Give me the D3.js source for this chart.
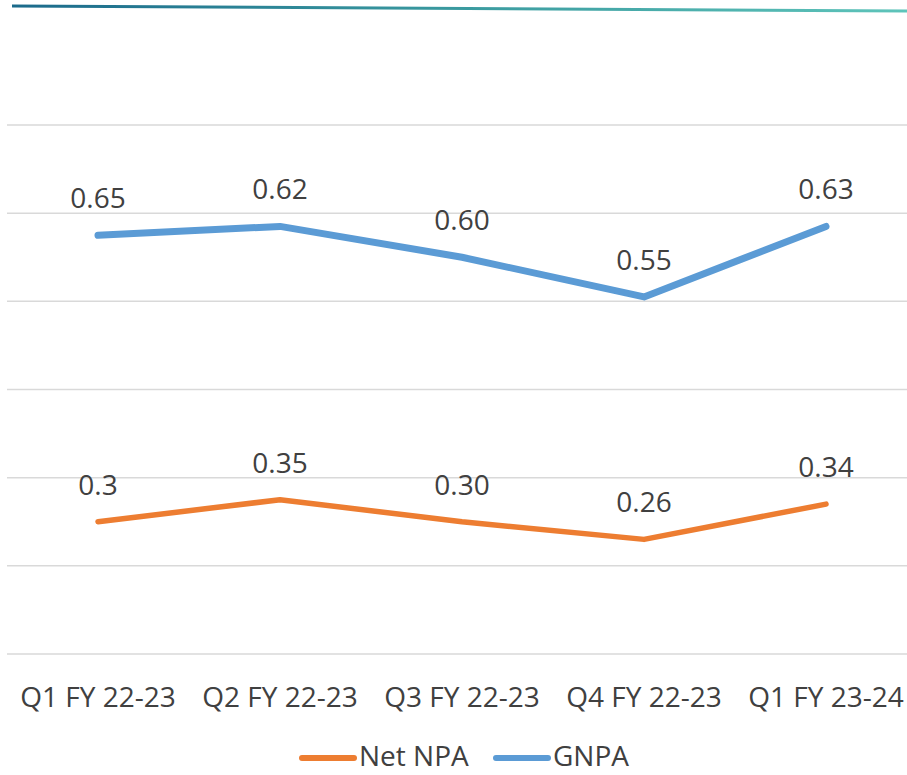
<!DOCTYPE html>
<html>
<head>
<meta charset="utf-8">
<script src="https://cdn.jsdelivr.net/npm/d3@7"></script>
<style>
  body { margin: 0; background: #fff; }
  svg { display: block; font-family: "Open Sans", "Noto Sans", sans-serif; }
</style>
</head>
<body>
<svg id="chart"></svg>
<script>
// data (GNPA is drawn stacked on top of Net NPA)
const categories = ["Q1 FY 22-23", "Q2 FY 22-23", "Q3 FY 22-23", "Q4 FY 22-23", "Q1 FY 23-24"];
const netNpa = [0.30, 0.35, 0.30, 0.26, 0.34];
const gnpa = [0.65, 0.62, 0.60, 0.55, 0.63];
const netLabels = ["0.3", "0.35", "0.30", "0.26", "0.34"];
const gnpaLabels = ["0.65", "0.62", "0.60", "0.55", "0.63"];
const yTicks = [0, 0.2, 0.4, 0.6, 0.8, 1.0, 1.2];
const seriesNames = ["Net NPA", "GNPA"];

var W = 907, H = 775;
var svg = d3.select("#chart").attr("width", W).attr("height", H);

var colors = { "Net NPA": "#ED7D31", "GNPA": "#5B9BD5" };
var widths = { "Net NPA": 5.5, "GNPA": 7 };
var textColor = "#404040";

// decorative rule at the very top
var grad = svg.append("defs").append("linearGradient")
    .attr("id", "topGrad").attr("x1", "0%").attr("x2", "100%");
grad.append("stop").attr("offset", "0%").attr("stop-color", "#1B6A8B");
grad.append("stop").attr("offset", "50%").attr("stop-color", "#3A9A9F");
grad.append("stop").attr("offset", "100%").attr("stop-color", "#5EC4BA");
svg.append("path")
    .attr("d", "M12,6 L907,11")
    .attr("stroke", "url(#topGrad)")
    .attr("stroke-width", 3)
    .attr("fill", "none");

var x = d3.scaleBand().domain(categories).range([7, 917]);
var y = d3.scaleLinear().domain([0, 1.2]).range([654, 125]);
var cx = function(c) { return x(c) + x.bandwidth() / 2; };

// gridlines
svg.append("g").selectAll("line")
    .data(yTicks)
    .join("line")
    .attr("x1", 7).attr("x2", W)
    .attr("y1", d => y(d)).attr("y2", d => y(d))
    .attr("stroke", "#D9D9D9")
    .attr("stroke-width", 1.5);

// category axis labels
svg.append("g").selectAll("text")
    .data(categories)
    .join("text")
    .attr("x", d => cx(d))
    .attr("y", 707)
    .attr("text-anchor", "middle")
    .attr("font-size", 28)
    .attr("fill", textColor)
    .text(d => d);

// stacked lines
var table = categories.map(function(c, i) {
    return { cat: c, "Net NPA": netNpa[i], "GNPA": gnpa[i] };
});
var stacked = d3.stack().keys(seriesNames)(table);
var labels = { "Net NPA": netLabels, "GNPA": gnpaLabels };

var line = d3.line()
    .x(d => cx(d.data.cat))
    .y(d => y(d[1]));

var series = svg.append("g").selectAll("g")
    .data(stacked)
    .join("g");

series.append("path")
    .attr("d", d => line(d))
    .attr("fill", "none")
    .attr("stroke", d => colors[d.key])
    .attr("stroke-width", d => widths[d.key])
    .attr("stroke-linecap", "round")
    .attr("stroke-linejoin", "round");

series.each(function(s) {
    d3.select(this).selectAll("text")
        .data(s)
        .join("text")
        .attr("x", d => cx(d.data.cat))
        .attr("y", d => y(d[1]) - 27)
        .attr("text-anchor", "middle")
        .attr("font-size", 28)
        .attr("fill", textColor)
        .text((d, i) => labels[s.key][i]);
});

// legend
var legendItems = [
    { name: "Net NPA", x: 300 },
    { name: "GNPA", x: 494 }
];
var legend = svg.append("g").selectAll("g")
    .data(legendItems)
    .join("g")
    .attr("transform", d => "translate(" + d.x + ",758)");
legend.append("line")
    .attr("x1", 2).attr("x2", 54)
    .attr("stroke", d => colors[d.name])
    .attr("stroke-width", 6)
    .attr("stroke-linecap", "round");
legend.append("text")
    .attr("x", 59)
    .attr("y", 8)
    .attr("font-size", 28)
    .attr("fill", textColor)
    .text(d => d.name);
</script>
</body>
</html>
